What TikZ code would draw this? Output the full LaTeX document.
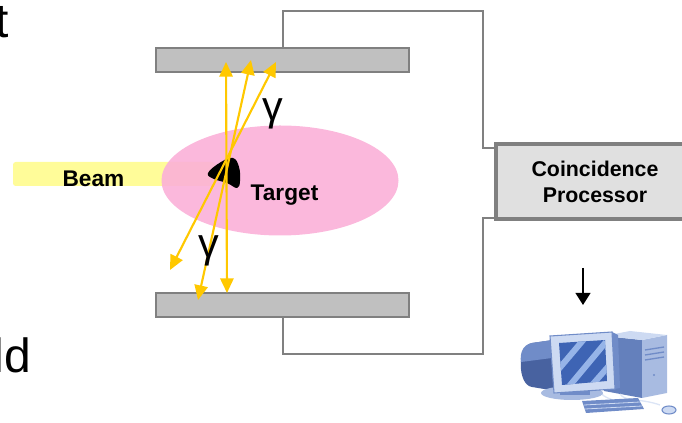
\documentclass[tikz,border=0pt]{standalone}
\usepackage{fontspec}
\setmainfont{Liberation Sans}
\usetikzlibrary{arrows.meta,shapes.geometric}

\definecolor{barfill}{RGB}{192,192,192}
\definecolor{wiregray}{RGB}{128,128,128}
\definecolor{boxfill}{RGB}{224,224,224}
\definecolor{pinkcloud}{RGB}{251,176,216}
\definecolor{beamyellow}{RGB}{255,252,153}
\definecolor{gammagold}{RGB}{255,200,0}
\definecolor{pcdark}{RGB}{72,98,160}
\definecolor{pcmid}{RGB}{112,140,200}
\definecolor{pclight}{RGB}{205,218,242}
\definecolor{pcscreen}{RGB}{62,100,180}
\definecolor{pcstripe}{RGB}{150,180,232}

\begin{document}
\begin{tikzpicture}[x=0.75pt,y=-0.75pt,
  bar/.style={draw=wiregray, line width=1.5pt, fill=barfill, inner sep=0pt, outer sep=0pt,
              minimum width=189.75pt, minimum height=18pt},
  wire/.style={draw=wiregray, line width=1.5pt},
  procbox/.style={draw=wiregray, line width=3pt, fill=boxfill, inner sep=0pt, outer sep=0pt,
                  minimum width=148.5pt, minimum height=56.25pt, align=center,
                  font=\bfseries\fontsize{16}{19.5}\selectfont},
  cloud/.style={ellipse, fill=pinkcloud, fill opacity=0.9, inner sep=0pt,
                minimum width=177.75pt, minimum height=82.5pt},
  beambox/.style={fill=beamyellow, rounded corners=2pt, inner sep=0pt,
                  minimum width=151.5pt, minimum height=18pt},
  tag/.style={font=\bfseries\fontsize{17}{20}\selectfont, inner sep=0pt},
  gammatag/.style={font=\fontsize{31}{36}\selectfont, inner sep=0pt},
  bigtext/.style={font=\fontsize{36}{40}\selectfont, inner sep=0pt},
  ray/.style={draw=gammagold, line width=1.6pt,
              {Triangle[length=11pt,width=10pt]}-{Triangle[length=11pt,width=10pt]}},
]
\useasboundingbox (0,0) rectangle (682,423);
\clip (0,0) rectangle (682,423);

% partial words at the left edge
\node[bigtext, anchor=base east] (wordtop) at (9,38) {t};
\node[bigtext, anchor=base east] (wordbottom) at (31,373) {ld};

% detector plates and the processor
\node[bar] (topbar) at (282.5,60) {};
\node[bar] (bottombar) at (282.5,305.5) {};
\node[procbox] (proc) at (595,181.5) {Coincidence\\Processor};

% signal wires
\coordinate (tw1) at (282.5,11);
\coordinate (tw2) at (483,11);
\coordinate (tw3) at (483,148);
\draw[wire] (topbar.north) -- (tw1) -- (tw2) -- (tw3) -- (tw3 -| proc.west);
\coordinate (bw1) at (282.5,354);
\coordinate (bw2) at (483,354);
\coordinate (bw3) at (483,218);
\draw[wire] (bottombar.south) -- (bw1) -- (bw2) -- (bw3) -- (bw3 -| proc.west);

% beam and target region
\node[beambox] (beam) at (114,174) {};
\node[cloud] (cloud) at (280,180.5) {};
\node[tag] (beamlabel) at (93.5,178.5) {Beam};
\fill[black] plot[smooth cycle, tension=0.7] coordinates
  {(208,173) (221,162) (233,158) (239,167) (240,181) (237,188) (227,183) (214,179)};
\node[tag, anchor=base] (targetlabel) at (284.5,201) {Target};

% back-to-back gamma pairs
\coordinate (r1a) at (226,62);  \coordinate (r1b) at (227,293);
\coordinate (r2a) at (251,60);  \coordinate (r2b) at (198,300);
\coordinate (r3a) at (276,62);  \coordinate (r3b) at (170,270);
\draw[ray] (r1b) -- (r1a);
\draw[ray] (r2b) -- (r2a);
\draw[ray] (r3b) -- (r3a);
\node[gammatag] (gammaup) at (273,114) {γ};
\node[gammatag] (gammadown) at (209,251) {γ};

% output to the computer
\coordinate (outtop) at (583,268);
\coordinate (pc) at (583,305);
\draw[line width=1.5pt, -{Triangle[length=9pt,width=11pt]}] (outtop) -- (pc);

% desktop computer
\begin{scope}
  % tower
  \fill[pcmid!70!pcdark] (604,336) -- (642,340) -- (642,398) -- (604,391) -- cycle;
  \fill[pcmid!40!pclight] (642,340) -- (667,335) -- (667,393) -- (642,398) -- cycle;
  \fill[pclight] (604,336) -- (630,331) -- (667,335) -- (642,340) -- cycle;
  \draw[pcmid, line width=1pt] (645,350) -- (664,347) (645,355) -- (664,352) (645,360) -- (664,357);
  \fill[pcmid] (654,375) circle (1.2);
  % cables
  \draw[pclight!70!white, line width=1pt] (620,394) .. controls (625,402) and (640,398) .. (660,405);
  \draw[pclight!70!white, line width=1pt] (600,392) .. controls (604,398) and (610,398) .. (614,401);
  % monitor back and stand
  \fill[pcdark] (553,340) -- (532,343) .. controls (517,345) and (517,385) .. (532,387) -- (556,391) -- cycle;
  \fill[pcmid] (532,343) .. controls (521,345) and (520,356) .. (521,362) -- (552,358) -- (553,340) -- cycle;
  \fill[pclight!60!pcmid] (572,393) ellipse (31 and 7);
  \fill[pcmid] (560,388) rectangle (590,395);
  % bezel and screen
  \fill[pcmid] (612,332) -- (618,335) -- (620,388) -- (615,389) -- cycle;
  \filldraw[fill=pclight, draw=pcmid, line width=0.8pt] (550,336) -- (612,332) -- (615,389) -- (554,393) -- cycle;
  \fill[pcscreen] (559,343) -- (605,340) -- (607,381) -- (562,385) -- cycle;
  \begin{scope}
    \clip (559,343) -- (605,340) -- (607,381) -- (562,385) -- cycle;
    \draw[pcstripe, line width=4.5pt] (552,377) -- (590,332);
    \draw[pcstripe, line width=4.5pt] (566,390) -- (606,342);
    \draw[pcstripe, line width=4.5pt] (586,392) -- (614,360);
  \end{scope}
  % keyboard and mouse
  \fill[pcmid] (582,401) -- (638,398) -- (644,409) -- (586,413) -- cycle;
  \draw[pclight, line width=0.6pt] (584,405) -- (640,402) (585,409) -- (642,406);
  \filldraw[fill=pclight, draw=pcmid, line width=0.8pt] (669,410) ellipse (7 and 4);
\end{scope}
\end{tikzpicture}
\end{document}
